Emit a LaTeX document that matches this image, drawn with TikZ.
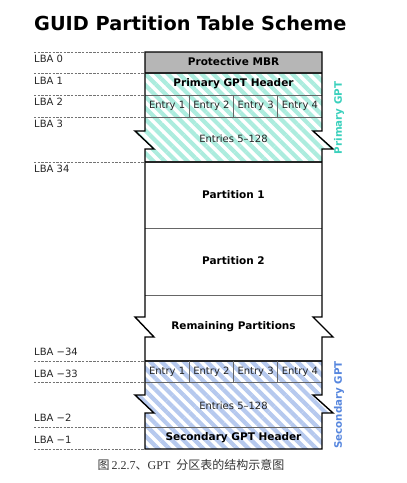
\documentclass[tikz,border=0pt]{standalone}
\usepackage{fontspec}
\setmainfont{DejaVu Sans}
\newfontfamily\cjk{Noto Sans CJK SC}
\newfontfamily\capserif{Liberation Serif}
\usepackage{tikz}
\usetikzlibrary{patterns.meta}

\definecolor{mbrgrey}{RGB}{182,182,182}
\definecolor{primstripe}{RGB}{172,236,222}
\definecolor{primtext}{RGB}{58,208,188}
\definecolor{secstripe}{RGB}{182,201,238}
\definecolor{sectext}{RGB}{86,134,222}

\tikzset{
	lbaline/.style={draw=black!55, dash pattern=on 2.4pt off 1.3pt, line width=0.8pt},
	lbalabel/.style={anchor=mid west, inner sep=0pt, font=\fontsize{10}{12}\selectfont, text=black!85},
	rowtitle/.style={anchor=mid, inner sep=0pt, font=\bfseries\fontsize{10.5}{12}\selectfont},
	rowtext/.style={anchor=mid, inner sep=0pt, font=\fontsize{10}{12}\selectfont, text=black!85},
	outline/.style={draw=black, line width=1.4pt, line join=miter},
	thinrow/.style={draw=black!60, line width=0.7pt},
	thickrow/.style={draw=black!85, line width=1.2pt},
	primhatch/.style={pattern={Lines[angle=-45,distance=8pt,line width=4.2pt]}, pattern color=primstripe},
	sechatch/.style={pattern={Lines[angle=-45,distance=8pt,line width=4.2pt]}, pattern color=secstripe}
}

\begin{document}
\begin{tikzpicture}[x=1pt, y=-1pt]
	\useasboundingbox (0,0) rectangle (407,483);

	% title
	\node[anchor=base west, inner sep=0pt, font=\bfseries\fontsize{19.3}{22}\selectfont] (title) at (34,30) {GUID Partition Table Scheme};

	% fills
	\fill[mbrgrey] (145,52) rectangle (322,73);
	\fill[primhatch] (145,73) -- (322,73) -- (322,131) -- (313,131) -- (333,149) -- (322,149) -- (322,162)
		-- (145,162) -- (145,149) -- (154,149) -- (135,131) -- (145,131) -- cycle;
	\fill[sechatch] (145,361) -- (322,361) -- (322,395) -- (313,395) -- (333,413) -- (322,413) -- (322,449)
		-- (145,449) -- (145,413) -- (154,413) -- (135,395) -- (145,395) -- cycle;

	% row dividers
	\draw[thinrow] (145,95) -- (322,95);
	\draw[thinrow] (145,117) -- (322,117);
	\draw[thinrow] (145,228) -- (322,228);
	\draw[thinrow] (145,295) -- (322,295);
	\draw[thinrow] (145,382) -- (322,382);
	\draw[thinrow] (145,427) -- (322,427);
	\draw[thickrow] (145,73) -- (322,73);
	\draw[thickrow] (145,162) -- (322,162);
	\draw[thickrow] (145,361) -- (322,361);
	\foreach \x in {189.25, 233.5, 277.75} {
		\draw[thinrow] (\x,95) -- (\x,117);
		\draw[thinrow] (\x,361) -- (\x,382);
	}

	% outline with the breaks
	\draw[outline] (145,52) -- (322,52) -- (322,131) -- (313,131) -- (333,149) -- (322,149)
		-- (322,317) -- (313,317) -- (333,337) -- (322,337)
		-- (322,395) -- (313,395) -- (333,413) -- (322,413) -- (322,449)
		-- (145,449) -- (145,413) -- (154,413) -- (135,395) -- (145,395)
		-- (145,337) -- (154,337) -- (135,317) -- (145,317)
		-- (145,149) -- (154,149) -- (135,131) -- (145,131) -- cycle;

	% LBA marks
	\foreach \y in {52, 73, 95, 117, 162, 361, 382, 427, 449}
		\draw[lbaline] (34,\y) -- (145,\y);
	\node[lbalabel] (lbaA) at (34,60) {LBA 0};
	\node[lbalabel] (lbaB) at (34,81.5) {LBA 1};
	\node[lbalabel] (lbaC) at (34,103) {LBA 2};
	\node[lbalabel] (lbaD) at (34,125) {LBA 3};
	\node[lbalabel] (lbaE) at (34,170) {LBA 34};
	\node[lbalabel] (lbaF) at (34,353) {LBA −34};
	\node[lbalabel] (lbaG) at (34,374.5) {LBA −33};
	\node[lbalabel] (lbaH) at (34,419) {LBA −2};
	\node[lbalabel] (lbaI) at (34,441) {LBA −1};

	% contents
	\node[rowtitle] (mbr) at (233.5,62.5) {Protective MBR};
	\node[rowtitle] (phead) at (233.5,84) {Primary GPT Header};
	\node[rowtext] (pe1) at (167.1,106) {Entry 1};
	\node[rowtext] (pe2) at (211.4,106) {Entry 2};
	\node[rowtext] (pe3) at (255.6,106) {Entry 3};
	\node[rowtext] (pe4) at (299.9,106) {Entry 4};
	\node[rowtext] (prest) at (233.5,140) {Entries 5–128};
	\node[rowtitle] (part1) at (233.5,195.5) {Partition 1};
	\node[rowtitle] (part2) at (233.5,262) {Partition 2};
	\node[rowtitle] (rem) at (233.5,327) {Remaining Partitions};
	\node[rowtext] (se1) at (167.1,371.5) {Entry 1};
	\node[rowtext] (se2) at (211.4,371.5) {Entry 2};
	\node[rowtext] (se3) at (255.6,371.5) {Entry 3};
	\node[rowtext] (se4) at (299.9,371.5) {Entry 4};
	\node[rowtext] (srest) at (233.5,406.5) {Entries 5–128};
	\node[rowtitle] (shead) at (233.5,438) {Secondary GPT Header};

	% side labels
	\node[rotate=90, inner sep=0pt, font=\bfseries\fontsize{10.3}{12}\selectfont, text=primtext] (primgpt) at (339,118) {Primary GPT};
	\node[rotate=90, inner sep=0pt, font=\bfseries\fontsize{10.3}{12}\selectfont, text=sectext] (secgpt) at (339,405) {Secondary GPT};

	% caption
	\node[inner sep=0pt, font=\fontsize{12}{14}\selectfont, text=black!80] (caption) at (191,465)
		{{\cjk 图}\,{\capserif 2.2.7}{\cjk 、}{\capserif GPT}\enspace{\cjk 分区表的结构示意图}};
\end{tikzpicture}
\end{document}
